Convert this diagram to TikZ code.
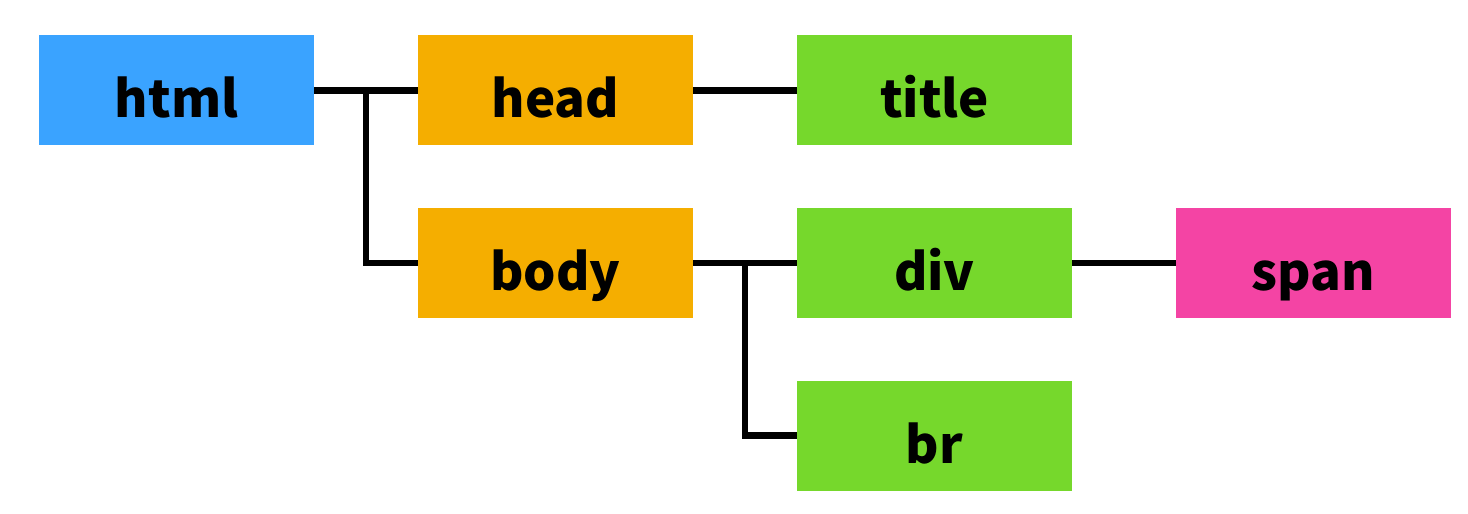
\documentclass[tikz,border=0pt]{standalone}
\usepackage{fontspec}
\setmainfont{Noto Sans CJK KR}
\usetikzlibrary{positioning,calc}
\definecolor{htmlblue}{HTML}{3AA3FF}
\definecolor{tagorange}{HTML}{F5AE00}
\definecolor{taggreen}{HTML}{76D82C}
\definecolor{tagpink}{HTML}{F444A4}
\begin{document}
\begin{tikzpicture}[node distance={1.25cm and 2.08cm}, line width=0.13cm,
    main/.style = {minimum width=5.5cm, minimum height=2.2cm, inner sep=0pt,
                   outer sep=0pt, text height=1.1cm, text depth=0cm,
                   font=\fontsize{29}{34}\selectfont\bfseries}]
        \useasboundingbox[fill=white] (-3.53,1.81) rectangle (25.83,-8.47);
        % Nodes
        \node[main, fill=htmlblue]   (1)              {html};
        \node[main, fill=tagorange]  (2) [right=of 1] {head};
        \node[main, fill=tagorange]  (3) [below=of 2] {body};
        \node[main, fill=taggreen]   (4) [right=of 2] {title};
        \node[main, fill=taggreen]   (5) [right=of 3] {div};
        \node[main, fill=taggreen]   (6) [below=of 5] {br};
        \node[main, fill=tagpink]    (7) [right=of 5] {span};

        % Connections
        \coordinate (a) at ($(1.east)!0.5!(2.west)$);
        \coordinate (b) at ($(3.east)!0.5!(5.west)$);
        \draw (1) -- (2);
        \draw (a) |- (3);
        \draw (2) -- (4);
        \draw (3) -- (5);
        \draw (b) |- (6);
        \draw (5) -- (7);
      \end{tikzpicture}
\end{document}
